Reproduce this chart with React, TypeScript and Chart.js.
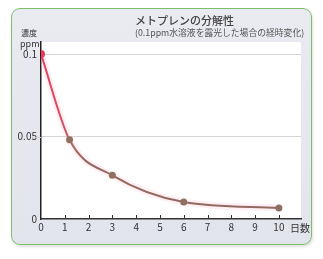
import React, { useEffect, useRef } from "react";
import { Chart, registerables } from "chart.js";

Chart.register(...registerables);

const days = [0, 1.2, 3, 6, 10];
const concentration = [0.1, 0.048, 0.0265, 0.0103, 0.0067];
const xTicks = [0, 1, 2, 3, 4, 5, 6, 7, 8, 9, 10];
const yTicks = [0, 0.05, 0.1];
const yTickLabels = ["0", "0.05", "0.1"];

const FONT = '"Noto Sans CJK JP", "Noto Sans", sans-serif';

export default function App() {
  const ref = useRef<HTMLCanvasElement | null>(null);

  useEffect(() => {
    document.body.style.margin = "0";
    const canvas = ref.current;
    if (!canvas) return;

    const plotBg = {
      id: "plotBg",
      beforeDraw(chart: any) {
        const { ctx, chartArea: a } = chart;
        ctx.save();
        ctx.fillStyle = "#ffffff";
        ctx.fillRect(a.left, a.top, a.right - a.left, a.bottom - a.top);
        ctx.restore();
      },
      afterDraw(chart: any) {
        const { ctx, chartArea: a, scales } = chart;
        ctx.save();
        ctx.strokeStyle = "#333";
        ctx.lineWidth = 1;
        for (const v of xTicks) {
          if (v === 0) continue;
          const px = Math.round(scales.x.getPixelForValue(v)) + 0.5;
          ctx.beginPath();
          ctx.moveTo(px, a.bottom);
          ctx.lineTo(px, a.bottom - 4);
          ctx.stroke();
        }
        ctx.strokeStyle = "#cfcfcf";
        const py = Math.round(scales.y.getPixelForValue(0.05)) + 0.5;
        ctx.beginPath();
        ctx.moveTo(a.left - 9, py);
        ctx.lineTo(a.left, py);
        ctx.stroke();
        ctx.restore();
      },
    };

    const lineColor = (c: any) => {
      const chart = c.chart;
      if (!chart.chartArea) return "#c04858";
      const xs = chart.scales.x;
      const g = chart.ctx.createLinearGradient(
        xs.getPixelForValue(0),
        0,
        xs.getPixelForValue(2),
        0
      );
      g.addColorStop(0, "#e8405c");
      g.addColorStop(0.4, "#dc4a60");
      g.addColorStop(0.65, "#a86862");
      g.addColorStop(1, "#94695f");
      return g;
    };

    const chart = new Chart(canvas, {
      type: "line",
      data: {
        datasets: [
          {
            data: days.map((d, i) => ({ x: d, y: concentration[i] })),
            borderColor: lineColor,
            borderWidth: 2,
            cubicInterpolationMode: "monotone",
            pointRadius: [4, 3.5, 3.5, 3.5, 3.5],
            pointBackgroundColor: ["#e63a55", "#927060", "#927060", "#927060", "#8a7060"],
            pointBorderWidth: 0,
            fill: false,
            order: 1,
          },
          {
            data: days.map((d, i) => ({ x: d, y: concentration[i] })),
            borderColor: "rgba(250,185,205,0.22)",
            borderWidth: 7,
            cubicInterpolationMode: "monotone",
            pointRadius: 0,
            fill: false,
            order: 2,
          },
        ],
      },
      options: {
        responsive: false,
        animation: false,
        devicePixelRatio: 1,
        layout: { padding: { top: 42, right: 22, left: 0, bottom: 0 } },
        plugins: {
          legend: { display: false },
          tooltip: { enabled: false },
          title: { display: false },
        },
        scales: {
          x: {
            type: "linear",
            min: 0,
            max: 10.93,
            afterFit: (s: any) => {
              s.height = 40;
            },
            afterBuildTicks: (s: any) => {
              s.ticks = xTicks.map((v) => ({ value: v }));
            },
            ticks: {
              callback: (v: any) => String(v),
              font: { family: FONT, size: 10 },
              color: "#333",
              padding: 2,
              maxRotation: 0,
              autoSkip: false,
            },
            grid: { display: false, drawTicks: false },
            border: { display: true, color: "#333", width: 1.5 },
          },
          y: {
            type: "linear",
            min: 0,
            max: 0.1073,
            afterFit: (s: any) => {
              s.width = 41;
            },
            afterBuildTicks: (s: any) => {
              s.ticks = yTicks.map((v) => ({ value: v }));
            },
            ticks: {
              callback: (v: any) => {
                const i = yTicks.indexOf(v);
                return i >= 0 ? yTickLabels[i] : "";
              },
              font: { family: FONT, size: 10 },
              color: "#333",
              padding: 4,
            },
            grid: {
              color: (c: any) => (c.tick && c.tick.value === 0 ? "rgba(0,0,0,0)" : "#d4d4d4"),
              lineWidth: 1,
              drawTicks: false,
              tickLength: 0,
            },
            border: { display: true, color: "#222", width: 1.5 },
          },
        },
      },
      plugins: [plotBg],
    } as any);

    return () => chart.destroy();
  }, []);

  return (
    <div style={{ position: "relative", width: 323, height: 259, background: "#fff", fontFamily: FONT }}>
      <div
        style={{
          position: "absolute",
          left: 11,
          top: 8,
          width: 299,
          height: 235,
          border: "1.5px solid #7cc06a",
          borderRadius: 9,
          background: "linear-gradient(#eaeaf1, #e2e4ec)",
          boxShadow: "1px 2px 3px rgba(0,0,0,0.12)",
        }}
      />
      <canvas ref={ref} width={323} height={259} style={{ position: "absolute", left: 0, top: 0 }} />
      <div style={{ position: "absolute", left: 135, top: 13, fontSize: 11, fontWeight: 500, color: "#444", lineHeight: "14px", whiteSpace: "nowrap" }}>
        メトプレンの分解性
      </div>
      <div style={{ position: "absolute", left: 135, top: 27, fontSize: 8.8, color: "#555", lineHeight: "12px", whiteSpace: "nowrap" }}>
        (0.1ppm水溶液を露光した場合の経時変化)
      </div>
      <div style={{ position: "absolute", left: 21, top: 28, fontSize: 8, color: "#333", lineHeight: "10px", whiteSpace: "nowrap" }}>
        濃度
      </div>
      <div style={{ position: "absolute", left: 20, top: 38, fontSize: 9, color: "#333", lineHeight: "11px", whiteSpace: "nowrap" }}>
        ppm
      </div>
      <div style={{ position: "absolute", left: 290, top: 221, fontSize: 10, color: "#333", lineHeight: "13px", whiteSpace: "nowrap" }}>
        日数
      </div>
    </div>
  );
}
